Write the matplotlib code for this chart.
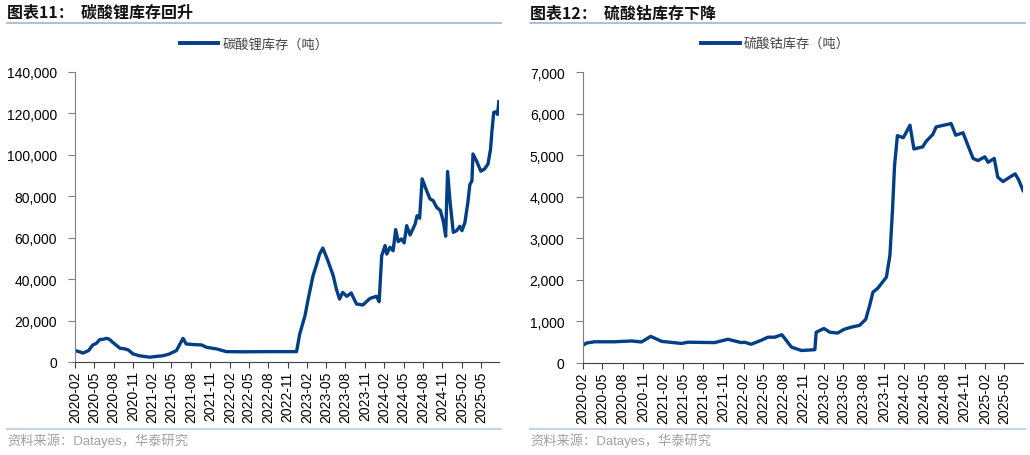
import matplotlib
matplotlib.use("Agg")
import matplotlib.pyplot as plt
import matplotlib.dates as mdates
from matplotlib.lines import Line2D
import pandas as pd

plt.rcParams['font.family'] = ['Liberation Sans', 'Noto Sans CJK SC']

# 碳酸锂库存 (吨)
li_dates = ['2020-02-01', '2020-02-20', '2020-03-10', '2020-04-05', '2020-04-25',
            '2020-05-12', '2020-05-28', '2020-06-15', '2020-06-28', '2020-07-12',
            '2020-07-28', '2020-09-01', '2020-09-20', '2020-10-10', '2020-11-01',
            '2020-12-01', '2021-01-19', '2021-02-20', '2021-03-22', '2021-04-20',
            '2021-05-25', '2021-06-25', '2021-07-10', '2021-08-15', '2021-09-22',
            '2021-10-13', '2021-12-01', '2022-01-15', '2022-04-01', '2022-08-01',
            '2022-12-13', '2022-12-28', '2023-01-22', '2023-02-06', '2023-03-01',
            '2023-03-16', '2023-04-01', '2023-04-16', '2023-05-10', '2023-06-04',
            '2023-06-19', '2023-07-04', '2023-07-19', '2023-08-07', '2023-08-28',
            '2023-09-22', '2023-10-22', '2023-11-25', '2023-12-25', '2024-01-07',
            '2024-01-19', '2024-02-04', '2024-02-12', '2024-02-27', '2024-03-13',
            '2024-03-25', '2024-04-06', '2024-04-21', '2024-05-04', '2024-05-16',
            '2024-06-01', '2024-06-25', '2024-07-04', '2024-07-16', '2024-07-28',
            '2024-08-18', '2024-09-03', '2024-09-18', '2024-10-04', '2024-10-22',
            '2024-11-06', '2024-11-16', '2024-11-25', '2024-12-07', '2024-12-22',
            '2025-01-07', '2025-01-22', '2025-02-01', '2025-02-15', '2025-03-01',
            '2025-03-10', '2025-03-20', '2025-03-25', '2025-04-10', '2025-05-01',
            '2025-05-19', '2025-06-04', '2025-06-16', '2025-06-22', '2025-07-01',
            '2025-07-13', '2025-07-19', '2025-07-25']
li_values = [5500, 5000, 4300, 5500, 8200,
             9000, 10800, 11000, 11400, 11000,
             9500, 6600, 6400, 5800, 3900,
             3000, 2300, 2700, 3000, 3800,
             5500, 11400, 8700, 8400, 8200,
             7100, 6300, 5000, 4900, 5000,
             5000, 13500, 22400, 30400, 41700,
             46500, 52100, 55000, 48900, 41700,
             35200, 30400, 33600, 31700, 33300,
             28000, 27500, 30700, 31700, 29100,
             51300, 56200, 52100, 55400, 53700,
             63900, 58100, 59400, 57500, 65800,
             61300, 66600, 70600, 69400, 88400,
             82700, 78700, 77900, 74700, 73100,
             67400, 60700, 91900, 77100, 62600,
             63400, 65500, 63400, 67400, 77100,
             85500, 87500, 100400, 97200, 92100,
             93200, 95600, 102800, 110900, 120500,
             120800, 119500, 125700]

# 硫酸钴库存 (吨)
co_dates = ['2020-02-01', '2020-02-19', '2020-03-25', '2020-06-25', '2020-09-10',
            '2020-10-25', '2020-12-06', '2021-01-25', '2021-04-25', '2021-05-25',
            '2021-09-22', '2021-11-22', '2022-01-22', '2022-02-05', '2022-03-07',
            '2022-04-22', '2022-05-22', '2022-06-22', '2022-07-25', '2022-09-07',
            '2022-10-22', '2022-12-22', '2022-12-28', '2023-02-01', '2023-02-28',
            '2023-04-04', '2023-05-04', '2023-06-04', '2023-07-13', '2023-08-10',
            '2023-08-28', '2023-09-12', '2023-10-04', '2023-11-12', '2023-11-28',
            '2023-12-10', '2023-12-19', '2024-01-01', '2024-01-28', '2024-02-27',
            '2024-03-16', '2024-04-25', '2024-05-10', '2024-06-10', '2024-06-25',
            '2024-09-01', '2024-09-22', '2024-10-25', '2024-11-19', '2024-12-10',
            '2025-01-01', '2025-02-01', '2025-02-16', '2025-03-16', '2025-04-01',
            '2025-04-25', '2025-05-25', '2025-06-19', '2025-07-04', '2025-07-25']
co_values = [420, 480, 510, 510, 530,
             505, 640, 520, 470, 500,
             490, 570, 490, 500, 450,
             545, 620, 620, 680, 380,
             300, 320, 740, 830, 740,
             720, 810, 860, 905, 1050,
             1385, 1705, 1800, 2065, 2590,
             3710, 4750, 5470, 5420, 5720,
             5150, 5200, 5330, 5500, 5680,
             5760, 5480, 5540, 5200, 4920,
             4870, 4960, 4830, 4920, 4470,
             4365, 4470, 4550, 4415, 4150]

line_color = '#003e85'
rule_color = '#9db5d3'
cjk = ['Noto Sans CJK SC']

fig = plt.figure(figsize=(10.3, 4.56), dpi=100)

panels = [
    ([0.0728, 0.204, 0.4117, 0.636], li_dates, li_values, 140000, 20000,
     '图表11：  碳酸锂库存回升', '碳酸锂库存（吨）', 0.0068, 0.486, 0.2466),
    ([0.5657, 0.2018, 0.4278, 0.638], co_dates, co_values, 7000, 1000,
     '图表12：  硫酸钴库存下降', '硫酸钴库存（吨）', 0.5146, 0.995, 0.7529),
]

for rect, dates, values, ymax, ystep, title, label, x0, x1, lx in panels:
    ax = fig.add_axes(rect)
    ax.plot(pd.to_datetime(dates), values, color=line_color, lw=2.4,
            solid_joinstyle='round')
    ax.set_xlim(pd.Timestamp('2020-02-01'), pd.Timestamp('2025-07-26'))
    ax.set_ylim(0, ymax)
    ax.set_yticks(range(0, ymax + 1, ystep))
    ax.yaxis.set_major_formatter(matplotlib.ticker.FuncFormatter(lambda v, p: f'{int(v):,}'))
    ax.xaxis.set_major_locator(mdates.MonthLocator(bymonth=[2, 5, 8, 11]))
    ax.xaxis.set_major_formatter(mdates.DateFormatter('%Y-%m'))
    for s in ['top', 'right']:
        ax.spines[s].set_visible(False)
    ax.spines['left'].set_color('#808080')
    ax.spines['bottom'].set_color('#404040')
    ax.tick_params(axis='y', labelsize=10, length=5, color='#808080', pad=8)
    ax.tick_params(axis='x', labelsize=10, length=4, color='#404040',
                   rotation=90, pad=2)

    fig.text(x0, 1 - 13 / 456, title, fontsize=11.5, fontweight='bold',
             family=cjk, va='center', ha='left', color='#111111')
    fig.add_artist(Line2D([x0, x1], [1 - 24 / 456, 1 - 24 / 456],
                          color=rule_color, lw=1.2))
    fig.add_artist(Line2D([x0, x1], [1 - 430 / 456, 1 - 430 / 456],
                          color='#c5d3e3', lw=1.5))
    fig.text(x0, 1 - 441 / 456, '资料来源：Datayes，华泰研究', fontsize=9.5,
             family=['Liberation Sans', 'Noto Sans CJK SC'], color='#a0a0a0',
             va='center', ha='left')

    ax.legend([Line2D([], [], color=line_color, lw=2.8)], [label],
              loc='center', bbox_to_anchor=(lx, 1 - 45 / 456),
              bbox_transform=fig.transFigure, frameon=False,
              prop={'family': cjk, 'size': 9.5}, handlelength=2.9,
              handletextpad=0.3, labelcolor='#444444')

fig.savefig('out.png', dpi=100)
